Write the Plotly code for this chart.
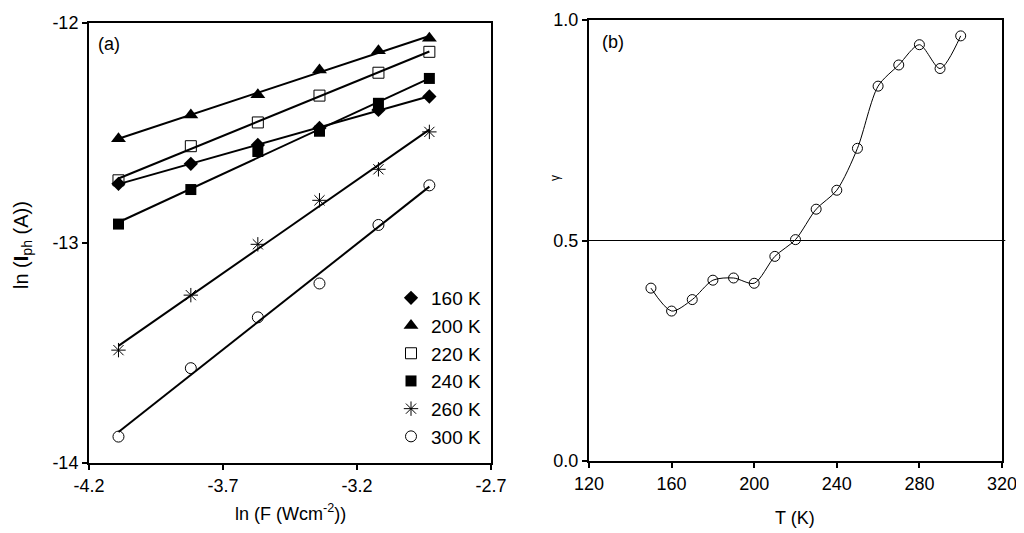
import numpy as np
import plotly.graph_objects as go

# panel (a): ln(F) vs ln(Iph) at several temperatures
ln_f = [-4.09, -3.82, -3.57, -3.34, -3.12, -2.93]
iph_160 = [-12.731, -12.640, -12.554, -12.477, -12.395, -12.334]
iph_200 = [-12.526, -12.418, -12.326, -12.214, -12.126, -12.069]
iph_220 = [-12.715, -12.560, -12.452, -12.330, -12.226, -12.131]
iph_240 = [-12.914, -12.757, -12.584, -12.492, -12.365, -12.252]
iph_260 = [-13.487, -13.237, -13.006, -12.806, -12.665, -12.495]
iph_300 = [-13.880, -13.569, -13.338, -13.184, -12.918, -12.738]

# panel (b): gamma vs temperature
temps = [150, 160, 170, 180, 190, 200, 210, 220, 230, 240, 250, 260, 270, 280, 290, 300]
gamma = [0.392, 0.340, 0.366, 0.410, 0.415, 0.403, 0.464, 0.502, 0.571, 0.614,
         0.709, 0.850, 0.898, 0.944, 0.890, 0.964]

W, H = 1024, 533
OFF = 8  # page body margin shifts the figure
FONT = "Liberation Sans, Arial, sans-serif"


def px(x):
    return (x - OFF) / W


def py(y):
    return 1 - (y - OFF) / H


series = [
    ("160 K", iph_160, dict(symbol="diamond", size=11, color="black")),
    ("200 K", iph_200, dict(symbol="triangle-up", size=13, color="black")),
    ("220 K", iph_220, dict(symbol="square-open", size=11, color="black", line=dict(width=1))),
    ("240 K", iph_240, dict(symbol="square", size=11, color="black")),
    ("260 K", iph_260, dict(symbol="asterisk-open", size=12, color="black", line=dict(width=1, color="black"))),
    ("300 K", iph_300, dict(symbol="circle-open", size=11, color="black", line=dict(width=1))),
]

fig = go.Figure()

for name, ys, marker in series:
    # linear fit drawn across the measured range
    k, b = np.polyfit(ln_f, ys, 1)
    fit = [k * x + b for x in ln_f]
    fig.add_trace(go.Scatter(
        x=ln_f, y=fit, mode="lines", showlegend=False, hoverinfo="skip",
        line=dict(color="black", width=2),
        xaxis="x", yaxis="y",
    ))
    fig.add_trace(go.Scatter(
        x=ln_f, y=ys, mode="markers", name=name, marker=marker,
        xaxis="x", yaxis="y",
    ))

fig.add_trace(go.Scatter(
    x=temps, y=gamma, mode="lines+markers", showlegend=False,
    line=dict(color="black", width=1, shape="spline", smoothing=0.8),
    marker=dict(symbol="circle-open", size=10, color="black", line=dict(width=1)),
    xaxis="x2", yaxis="y2",
))

axis_style = dict(
    showline=True, linewidth=2, linecolor="black", mirror=True,
    ticks="outside", ticklen=5, tickwidth=1.5, tickcolor="black",
    showgrid=False, zeroline=False, automargin=False,
    tickfont=dict(family=FONT, size=18, color="black"),
)

fig.update_layout(
    width=W, height=H,
    margin=dict(l=0, r=0, t=0, b=0, pad=0, autoexpand=False),
    paper_bgcolor="white", plot_bgcolor="white",
    font=dict(family=FONT, size=18, color="black"),
    xaxis=dict(
        domain=[px(89), px(491)], range=[-4.2, -2.7], anchor="y",
        tickvals=[-4.2, -3.7, -3.2, -2.7], ticktext=["-4.2", "-3.7", "-3.2", "-2.7"],
        **axis_style,
    ),
    yaxis=dict(
        domain=[py(463), py(23)], range=[-14, -12], anchor="x",
        tickvals=[-14, -13, -12], ticktext=["-14", "-13", "-12"],
        **axis_style,
    ),
    xaxis2=dict(
        domain=[px(589), px(1002)], range=[120, 320], anchor="y2",
        tickvals=[120, 160, 200, 240, 280, 320],
        **axis_style,
    ),
    yaxis2=dict(
        domain=[py(461), py(20)], range=[0, 1], anchor="x2",
        tickvals=[0, 0.5, 1.0], ticktext=["0.0", "0.5", "1.0"],
        **axis_style,
    ),
    legend=dict(
        x=px(486), y=py(456), xanchor="right", yanchor="bottom",
        bgcolor="rgba(0,0,0,0)", itemwidth=30,
        font=dict(family=FONT, size=19, color="black"),
        tracegroupgap=0,
    ),
    showlegend=True,
)

# reference line at gamma = 0.5
fig.add_shape(
    type="line", xref="x2 domain", yref="y2", x0=0, x1=1.008, y0=0.5, y1=0.5,
    line=dict(color="black", width=1),
)

annotations = [
    dict(text="(a)", x=px(96), y=py(44), xanchor="left"),
    dict(text="(b)", x=px(600), y=py(42), xanchor="left"),
    dict(text="ln (F (Wcm<sup>-2</sup>))", x=px(290), y=py(512)),
    dict(text="T (K)", x=px(795), y=py(518)),
    dict(text="ln (<b>I</b><sub>ph</sub> (A))", x=px(22), y=py(245), textangle=-90,
         font=dict(family=FONT, size=20, color="black")),
    dict(text="γ", x=px(555), y=py(178), textangle=-90, font=dict(family=FONT, size=12, color="black")),
]
for a in annotations:
    a.setdefault("font", dict(family=FONT, size=18, color="black"))
    a.setdefault("xanchor", "center")
    a.setdefault("yanchor", "middle")
    fig.add_annotation(xref="paper", yref="paper", showarrow=False, **a)

fig.write_html("out.html")
